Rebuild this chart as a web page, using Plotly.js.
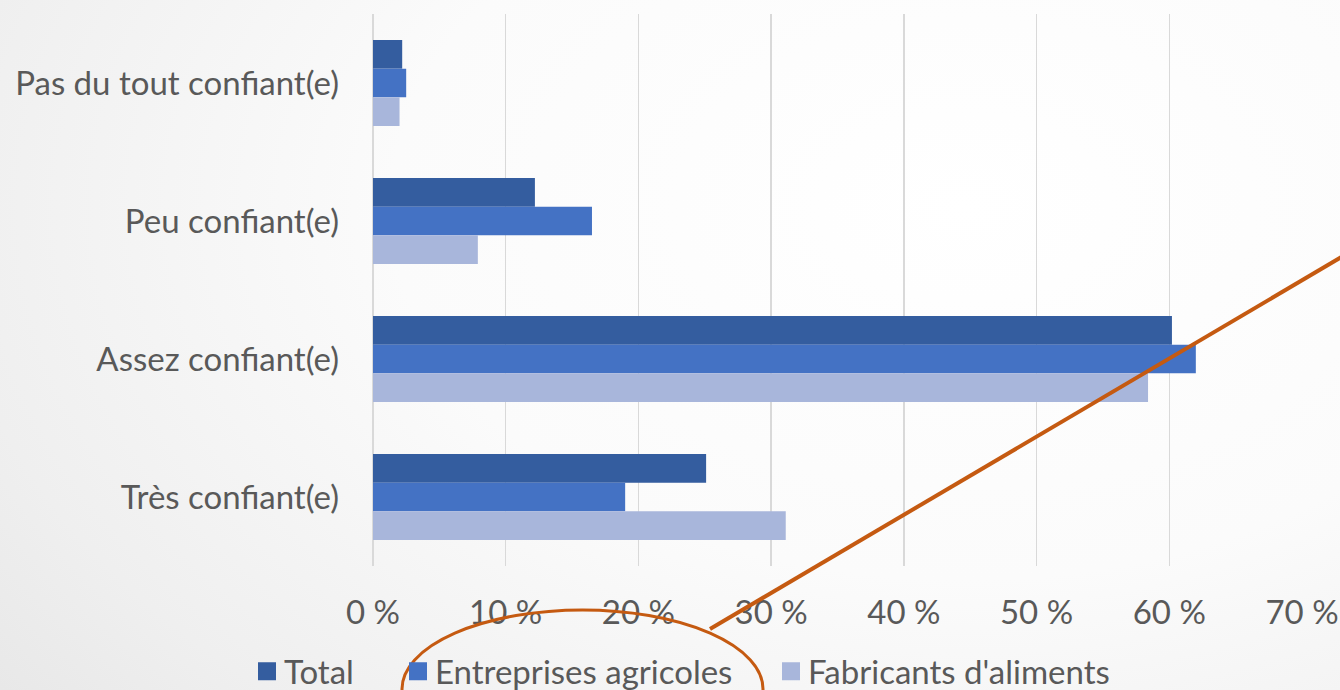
<!DOCTYPE html>
<html>
<head>
<meta charset="utf-8">
<script src="https://cdn.plot.ly/plotly-3.0.1.min.js"></script>
<style>
html,body{margin:0;padding:0;}
body{width:1340px;height:690px;overflow:hidden;
background: radial-gradient(ellipse 95% 120% at 72% 30%, #ffffff 0%, #fbfbfb 45%, #efefef 80%, #e6e6e6 100%);}
#chart{width:1340px;height:690px;}
.legendpoints path{transform:translate(23px,0px) scale(1.5);}
</style>
</head>
<body>
<div id="chart"></div>
<script>
const categories = ["Pas du tout confiant(e)", "Peu confiant(e)", "Assez confiant(e)", "Très confiant(e)"];
const seriesNames = ["Total", "Entreprises agricoles", "Fabricants d'aliments"];
const totalValues = [2.2, 12.2, 60.2, 25.1];
const entreprisesValues = [2.5, 16.5, 62.0, 19.0];
const fabricantsValues = [2.0, 7.9, 58.4, 31.1];
const tickValues = [0, 10, 20, 30, 40, 50, 60, 70];
const tickLabels = ["0 %", "10 %", "20 %", "30 %", "40 %", "50 %", "60 %", "70 %"];
const colors = ["#345D9F", "#4472C4", "#A8B6DB"];

const seriesValues = [totalValues, entreprisesValues, fabricantsValues];
const legendIds = ["legend", "legend2", "legend3"];
const traces = seriesValues.map((vals, i) => ({
  type: "bar",
  orientation: "h",
  name: seriesNames[i],
  legend: legendIds[i],
  y: categories,
  x: vals,
  marker: {color: colors[i], line: {width: 0}},
  hoverinfo: "x+y+name"
}));

const W = 1340, H = 690;
const L = 373, R = 38, T = 14, B = 124;
const pw = W - L - R, ph = H - T - B;
function px(x){ return (x - L) / pw; }
function py(y){ return (H - B - y) / ph; }

const font = "Lato, 'Open Sans', 'Noto Sans', sans-serif";
const fs = 33;
function legendAt(textStart){
  return {
    orientation: "h",
    xref: "container", yref: "container",
    x: (textStart - 42) / W, xanchor: "left",
    y: 0.027, yanchor: "middle",
    font: {family: font, size: fs, color: "#595959"},
    bgcolor: "rgba(0,0,0,0)",
    borderwidth: 0,
    itemclick: false
  };
}
const layout = {
  width: W, height: H,
  margin: {l: L, r: R, t: T, b: B, pad: 0},
  paper_bgcolor: "rgba(0,0,0,0)",
  plot_bgcolor: "rgba(0,0,0,0)",
  barmode: "group",
  bargap: 0.377,
  bargroupgap: 0,
  font: {family: font, color: "#595959", size: fs},
  xaxis: {
    range: [0, 70],
    tickmode: "array",
    tickvals: tickValues,
    ticktext: tickLabels,
    showgrid: true,
    gridcolor: "#D9D9D9",
    gridwidth: 1.5,
    zeroline: true,
    zerolinecolor: "#D9D9D9",
    zerolinewidth: 1.5,
    showline: false,
    ticks: "",
    ticklabelstandoff: 24,
    tickfont: {family: font, size: fs, color: "#595959"},
    fixedrange: true
  },
  yaxis: {
    autorange: "reversed",
    type: "category",
    showgrid: false,
    zeroline: false,
    showline: false,
    ticks: "",
    ticklabelstandoff: 33,
    tickfont: {family: font, size: fs, color: "#595959"},
    fixedrange: true
  },
  showlegend: true,
  legend: legendAt(286),
  legend2: legendAt(437),
  legend3: legendAt(810),
  shapes: [
    {type: "line", xref: "paper", yref: "paper",
     x0: px(1345), y0: py(255), x1: px(710), y1: py(629),
     line: {color: "#C55A11", width: 4}},
    {type: "circle", xref: "paper", yref: "paper",
     x0: px(402), x1: px(763), y0: py(610), y1: py(768),
     line: {color: "#C55A11", width: 3}, fillcolor: "rgba(0,0,0,0)"}
  ]
};

Plotly.newPlot("chart", traces, layout, {displayModeBar: false, staticPlot: true});
</script>
</body>
</html>
